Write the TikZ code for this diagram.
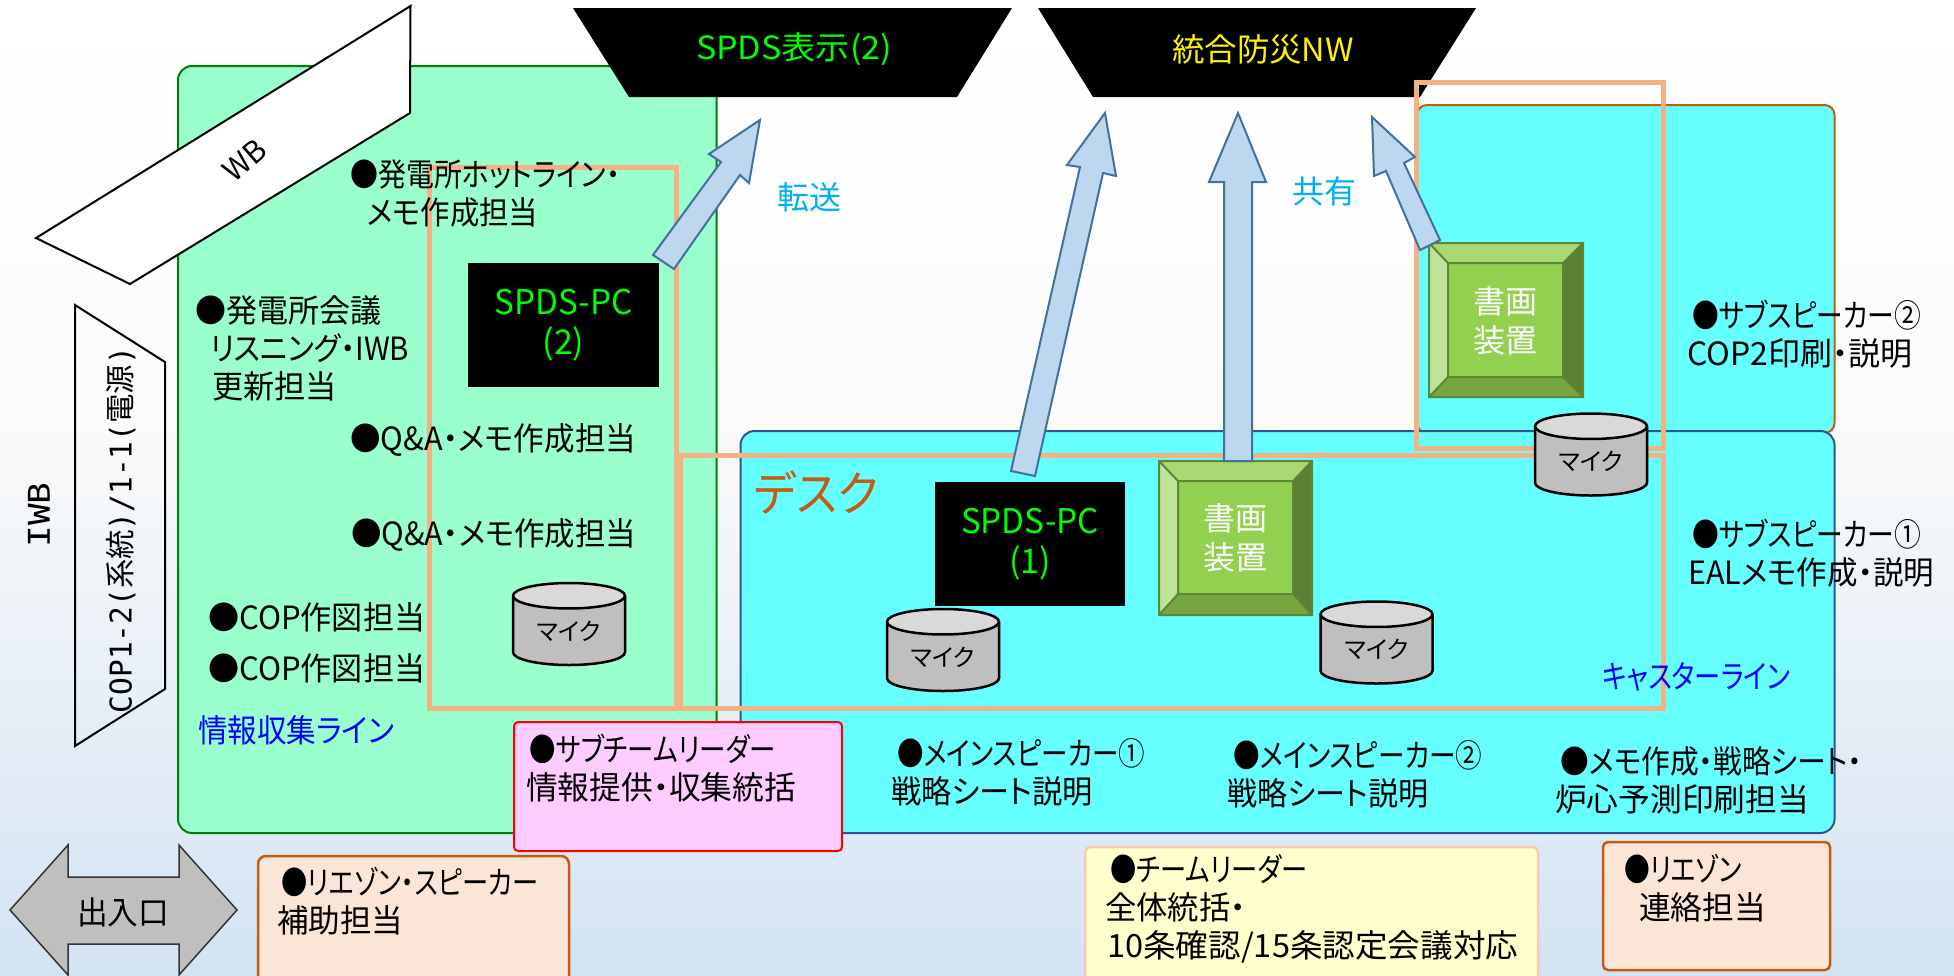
\documentclass[tikz,border=0pt]{standalone}
\usepackage{fontspec}
\usepackage{graphicx}
\setmainfont{Noto Sans CJK JP}[RawFeature={+palt}]
\newfontfamily\dvm{DejaVu Sans Mono}
\usetikzlibrary{shapes.geometric}
\definecolor{bgA}{HTML}{FBFBFB}
\definecolor{bgB}{HTML}{D3E3F3}
\definecolor{grnF}{HTML}{99FFCC}
\definecolor{grnS}{HTML}{008000}
\definecolor{cyaF}{HTML}{66FFFF}
\definecolor{bluS}{HTML}{2F5597}
\definecolor{ornS}{HTML}{C55A11}
\definecolor{rectO}{HTML}{F4B183}
\definecolor{arrF}{HTML}{BDD7EE}
\definecolor{arrS}{HTML}{41719C}
\definecolor{skyT}{HTML}{00B0F0}
\definecolor{peach}{HTML}{FBE5D6}
\definecolor{peachS}{HTML}{F8CBAD}
\definecolor{yelF}{HTML}{FFFFCC}
\definecolor{pnkF}{HTML}{FFCCFF}
\definecolor{bvC}{HTML}{92D050}
\definecolor{bvT}{HTML}{A9D973}
\definecolor{bvL}{HTML}{C0E399}
\definecolor{bvR}{HTML}{5B7F33}
\definecolor{bvB}{HTML}{75A640}
\definecolor{bvS}{HTML}{5F8537}
\newsavebox\fwbox
\newcommand\fw[2]{\sbox\fwbox{#2}\pgfmathsetmacro\fwr{#1/\the\wd\fwbox}\scalebox{\fwr}[1]{\usebox\fwbox}}
\tikzset{
  lbl/.style={align=left,inner sep=0pt,anchor=west,font=\fontsize{32}{38}\selectfont},
  zone/.style={rounded corners=14pt,line width=2pt},
  orect/.style={draw=rectO,line width=5pt},
  blockarrow/.style={draw=arrS,fill=arrF,line width=2pt,line join=miter},
  blackbox/.style={fill=black,text=green,align=center,inner sep=0pt,font=\fontsize{34}{40}\selectfont},
  trap/.style={fill=black},
  mic/.style={cylinder,shape border rotate=90,draw=black,line width=2.5pt,aspect=0.4,inner sep=0pt,
    cylinder uses custom fill,cylinder end fill=black!15,cylinder body fill=black!25,
    font=\fontsize{24}{26}\selectfont,minimum width=112pt,minimum height=82pt},
  bevtext/.style={text=white,align=center,inner sep=0pt,font=\fontsize{32}{39}\selectfont},
  plain/.style={inner sep=0pt,font=\fontsize{32}{36}\selectfont}
}
\newcommand\bevel[8]{%
  \fill[bvC] (#5,#6) rectangle (#7,#8);
  \fill[bvT] (#1,#2) -- (#3,#2) -- (#7,#6) -- (#5,#6) -- cycle;
  \fill[bvL] (#1,#2) -- (#5,#6) -- (#5,#8) -- (#1,#4) -- cycle;
  \fill[bvR] (#3,#2) -- (#7,#6) -- (#7,#8) -- (#3,#4) -- cycle;
  \fill[bvB] (#1,#4) -- (#5,#8) -- (#7,#8) -- (#3,#4) -- cycle;
  \draw[bvS,line width=2pt] (#1,#2) rectangle (#3,#4) (#5,#6) rectangle (#7,#8)
    (#1,#2) -- (#5,#6) (#3,#2) -- (#7,#6) (#1,#4) -- (#5,#8) (#3,#4) -- (#7,#8);
}
\begin{document}
\begin{tikzpicture}[x=1pt,y=-1pt]
\useasboundingbox (0,0) rectangle (1954,975);
\clip (0,0) rectangle (1954,975);
% background
\shade[top color=white,bottom color=bgA] (0,0) rectangle (1954,420);
\shade[top color=bgA,bottom color=bgB] (0,420) rectangle (1954,975);
% zones
\draw[zone,draw=grnS,fill=grnF] (178,66) rectangle (716.5,833);
\draw[zone,draw=ornS,fill=cyaF,rounded corners=10pt] (1417,105) rectangle (1834.5,433);
\draw[zone,draw=bluS,fill=cyaF] (740.5,431) rectangle (1834.5,833);
% WB
\draw[draw=black,fill=white,line width=2pt,line join=miter] (410.5,6) -- (410,113) -- (130,284) -- (36,238) -- cycle;
\node[rotate=41,inner sep=0pt,font=\fontsize{30}{36}\selectfont] (wb) at (245,160) {WB};
% COP panel
\draw[black,line width=2pt] (75,305) -- (165,362) -- (165,689) -- (75,746) -- cycle;
\node[rotate=90,inner sep=0pt,font=\fontsize{30}{36}\selectfont] (cop) at (121,530)
  {\fw{366}{{\dvm COP1-2(}系統{\dvm )/1-1(}電源{\dvm )}}};
\node[rotate=90,inner sep=0pt,font=\fontsize{30}{36}\selectfont] (iwb) at (39,515) {\fw{65}{\dvm IWB}};
% screens
\fill[trap] (573,8) -- (1012,8) -- (957,97) -- (629,97) -- cycle;
\fill[trap] (1038,8) -- (1476,8) -- (1420,97) -- (1093,97) -- cycle;
\node[plain,text=green] (sd) at (794,49) {\fw{196}{SPDS表示(2)}};
\node[plain,text=yellow] (nw) at (1263,49) {\fw{182}{統合防災NW}};
% orange rectangles
\draw[orect] (429,167) rectangle (676,708);
\draw[orect] (680,455) rectangle (1663,708);
\draw[orect] (1416,82) rectangle (1663,448);
% pink, liaison, yellow
\draw[draw=red,fill=pnkF,line width=2pt,rounded corners=4pt] (514,722) rectangle (842,851);
\draw[draw=ornS,fill=peach,line width=2.5pt,rounded corners=8pt] (258,856) rectangle (569,990);
\draw[draw=peachS,fill=yelF,line width=2.5pt,rounded corners=5pt] (1085,847) rectangle (1538,990);
\draw[draw=ornS,fill=peach,line width=2.5pt,rounded corners=5pt] (1603,842) rectangle (1830,970);
% door arrow
\draw[draw=black!80,fill=black!25,line width=1.5pt] (10,910) -- (68,845) -- (68,877) -- (179,877) -- (179,845) -- (237,910) -- (179,975) -- (179,944) -- (68,944) -- (68,975) -- cycle;
\node[plain] (door) at (123,912) {\fw{92}{出入口}};
% black PCs
\node[blackbox,minimum width=191pt,minimum height=124pt] (pc2) at (563.5,325) {\fw{138}{SPDS-PC}\\(2)};
\node[blackbox,minimum width=190pt,minimum height=124pt] (pc1) at (1030,544) {\fw{138}{SPDS-PC}\\(1)};
% bevels
\bevel{1159}{461}{1312}{615}{1178}{481}{1293}{594}
\node[bevtext] (bv1) at (1235,538) {書画\\装置};
\bevel{1429}{243}{1583}{397}{1448}{263}{1563}{377}
\node[bevtext] (bv2) at (1505,321) {書画\\装置};
% block arrows
\draw[blockarrow] (653,255) -- (721,162) -- (709,154) -- (760,120) -- (749,183) -- (740,175) -- (674,269) -- cycle;
\draw[blockarrow] (1011,471) -- (1080,167) -- (1067,165) -- (1105,113) -- (1116,176) -- (1103,173) -- (1035,476) -- cycle;
\draw[blockarrow] (1224,461) -- (1224,182) -- (1209,182) -- (1238,113) -- (1266,182) -- (1252,182) -- (1252,461) -- cycle;
\draw[blockarrow] (1420,250) -- (1386,171) -- (1374,176) -- (1372,117) -- (1415,157) -- (1404,163) -- (1440,240) -- cycle;
\node[plain,text=skyT] (ten) at (809,197) {転送};
\node[plain,text=skyT] (kyo) at (1324,191) {共有};
% mics
\node[mic] (m1) at (569,631) {マイク};
\node[mic] (m2) at (943,657) {マイク};
\node[mic] (m3) at (1376.5,649.5) {マイク};
\node[mic] (m4) at (1591,461.5) {マイク};
% desk
\node[lbl,text=ornS,font=\fontsize{48}{50}\selectfont] (desk) at (754,492) {\fw{124}{デスク}};
% labels
\node[lbl] (a1) at (350,193) {\fw{270}{●発電所ホットライン・}\\\hspace*{17pt}\fw{171}{メモ作成担当}};
\node[lbl] (a2) at (195,348) {\fw{186}{●発電所会議}\\\hspace*{15pt}\fw{199}{リスニング・IWB}\\\hspace*{17pt}\fw{125}{更新担当}};
\node[lbl] (a3) at (350,440) {\fw{286}{●Q\&A・メモ作成担当}};
\node[lbl] (a4) at (351,535) {\fw{285}{●Q\&A・メモ作成担当}};
\node[lbl] (a5) at (208,617) {\fw{217}{●COP作図担当}};
\node[lbl] (a6) at (208,668) {\fw{217}{●COP作図担当}};
\node[lbl,text=blue] (a7) at (198,730) {\fw{196}{情報収集ライン}};
\node[lbl] (p1) at (526,768) {\hspace*{3pt}\fw{247}{●サブチームリーダー}\\\fw{270}{情報提供・収集統括}};
\node[lbl] (l1) at (277,901) {\hspace*{4pt}\fw{257}{●リエゾン・スピーカー}\\\fw{126}{補助担当}};
\node[lbl] (b1) at (891,772) {\hspace*{6pt}\fw{248}{●メインスピーカー①}\\\fw{202}{戦略シート説明}};
\node[lbl] (b2) at (1227,774) {\hspace*{6pt}\fw{249}{●メインスピーカー②}\\\fw{201}{戦略シート説明}};
\node[lbl] (b3) at (1555,780) {\hspace*{5pt}\fw{302}{●メモ作成・戦略シート・}\\\fw{254}{炉心予測印刷担当}};
\node[lbl,text=blue] (b4) at (1602,677) {\fw{188}{キャスターライン}};
\node[lbl] (s1) at (1688,553) {\hspace*{4pt}\fw{229}{●サブスピーカー①}\\\fw{246}{EALメモ作成・説明}};
\node[lbl] (s2) at (1687,334) {\hspace*{5pt}\fw{229}{●サブスピーカー②}\\\fw{225}{COP2印刷・説明}};
\node[lbl] (y1) at (1105,909) {\hspace*{5pt}\fw{197}{●チームリーダー}\\\fw{141}{全体統括・}\\\hspace*{2pt}\fw{411}{10条確認/15条認定会議対応}};
\node[lbl] (r1) at (1624,888) {\fw{118}{●リエゾン}\\\hspace*{15pt}\fw{127}{連絡担当}};
\end{tikzpicture}
\end{document}
